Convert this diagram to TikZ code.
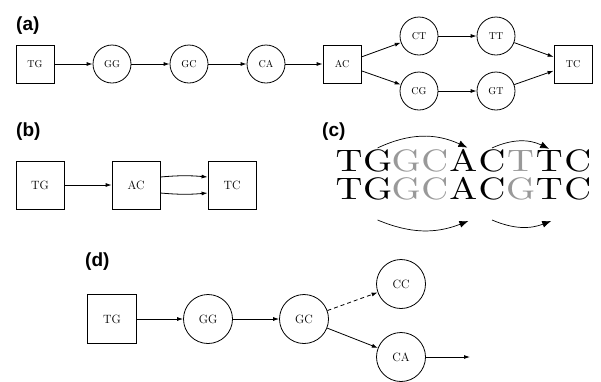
\documentclass[tikz,border=0pt]{standalone}
\usepackage{fontspec}
\newfontfamily\panelfont{Liberation Sans}
\newfontfamily\seqfont[Extension=.otf]{lmroman10-regular}
\usetikzlibrary{arrows.meta}
\colorlet{lgray}{gray!80}

\begin{document}
\begin{tikzpicture}[x=1pt,y=-1pt,
  sq/.style={draw,line width=0.8pt,minimum size=#1,inner sep=0pt},
  cir/.style={draw,circle,line width=0.8pt,minimum size=#1,inner sep=0pt},
  lbl/.style={anchor=base west,inner sep=0pt,font=\panelfont\bfseries\fontsize{19}{19}\selectfont},
  arr/.style={-{Latex[length=6pt,width=4pt]},line width=0.8pt},
  bigarr/.style={-{Latex[length=9pt,width=7pt]},line width=0.7pt},
  letter/.style={anchor=base,inner sep=0pt,font=\seqfont\fontsize{31}{31}\selectfont}]
\useasboundingbox (0,0) rectangle (601,381);
%\draw[gray] (0,0) rectangle (601,381);

% (a)
\node[lbl] (la) at (16,30) {(a)};
\node[sq=38pt] (aTG) at (35,64) {TG};
\foreach \n/\x in {GG/112,GC/189,CA/266}
  \node[cir=38pt] (a\n) at (\x,64) {\n};
\node[sq=38pt] (aAC) at (342,64) {AC};
\foreach \n/\x/\y in {CT/419/36,TT/496/36,CG/419/91,GT/496/91}
  \node[cir=38pt] (a\n) at (\x,\y) {\n};
\node[sq=38pt] (aTC) at (573,64) {TC};
\foreach \s/\t in {TG/GG,GG/GC,GC/CA,CA/AC,AC/CT,AC/CG,CT/TT,CG/GT,TT/TC,GT/TC}
  \draw[arr] (a\s) -- (a\t);

% (b)
\node[lbl] (lb) at (16,136.5) {(b)};
\node[sq=48pt,font=\large] (bTG) at (40,185) {TG};
\node[sq=48pt,font=\large] (bAC) at (136,185) {AC};
\node[sq=48pt,font=\large] (bTC) at (232,185) {TC};
\draw[arr] (bTG) -- (bAC);
\draw[arr] ([yshift=8pt]bAC.east) to[bend left=5] ([yshift=8pt]bTC.west);
\draw[arr] ([yshift=-8pt]bAC.east) to[bend right=5] ([yshift=-8pt]bTC.west);

% (c)
\node[lbl] (lc) at (322,136) {(c)};
\def\dx{28.6}
\foreach \c/\g [count=\i] in {T/black,G/black,G/lgray,C/lgray,A/black,C/black,T/lgray,T/black,C/black}
  \node[letter,text=\g] (t\i) at (349+\dx*\i-\dx,171) {\scalebox{1.2}[1]{\c}};
\foreach \c/\g [count=\i] in {T/black,G/black,G/lgray,C/lgray,A/black,C/black,G/lgray,T/black,C/black}
  \node[letter,text=\g] (b\i) at (349+\dx*\i-\dx,199) {\scalebox{1.2}[1]{\c}};
\draw[bigarr] ([yshift=1pt]t2.north) to[bend left=25] ([xshift=4pt,yshift=1pt]t5.north);
\draw[bigarr] ([yshift=1pt]t6.north) to[bend left=25] ([yshift=1pt]t8.north);
\draw[bigarr] ([yshift=-21pt]b2.base) to[bend right=22] ([xshift=5pt,yshift=-22pt]b5.base);
\draw[bigarr] ([yshift=-21pt]b6.base) to[bend right=22] ([xshift=2pt,yshift=-22pt]b8.base);

% (d)
\node[lbl] (ld) at (85,266.5) {(d)};
\node[sq=49pt,font=\large] (dTG) at (112,319) {TG};
\node[cir=49pt,font=\large] (dGG) at (208,319) {GG};
\node[cir=49pt,font=\large] (dGC) at (304,319) {GC};
\node[cir=49pt,font=\large] (dCC) at (401,284) {CC};
\node[cir=49pt,font=\large] (dCA) at (401,357) {CA};
\coordinate (dout) at (470,357);
\draw[arr] (dTG) -- (dGG);
\draw[arr] (dGG) -- (dGC);
\draw[arr,dash pattern=on 4pt off 3pt] (dGC) -- (dCC);
\draw[arr] (dGC) -- (dCA);
\draw[arr] (dCA) -- (dout);
\end{tikzpicture}
\end{document}
